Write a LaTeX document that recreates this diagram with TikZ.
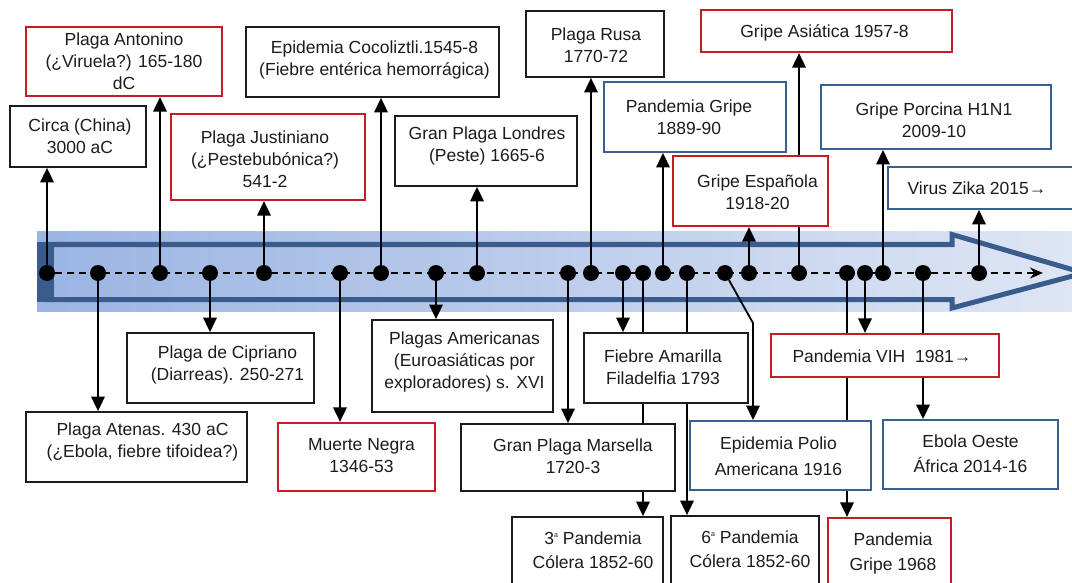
\documentclass[tikz,border=0pt]{standalone}
\usepackage{fontspec}
\setmainfont{Liberation Sans}
\usetikzlibrary{arrows.meta}
\definecolor{redc}{RGB}{200,28,36}
\definecolor{bluec}{RGB}{58,96,146}
\definecolor{blkc}{RGB}{28,28,28}
\definecolor{bandD}{RGB}{58,92,140}
\definecolor{bandL}{RGB}{155,180,226}
\definecolor{bandR}{RGB}{222,230,244}
\pgfdeclarelayer{back}
\pgfdeclarelayer{conn}
\pgfsetlayers{back,conn,main}
\newcommand\ordA{\raisebox{7pt}{\fontsize{7}{7}\selectfont a}}
\newcommand\evbox[9]{%
  \node[#1, minimum width={#5-#3}, minimum height={#6-#4}] (#2) at ({(#3+#5)/2},{(#4+#6)/2}) {};
  \node[txt] (#2t) at ({(#3+#5)/2+#7},{(#4+#6)/2+#8}) {#9};}
\tikzset{
  boxbase/.style={draw, fill=white, inner sep=0pt, rectangle},
  kbox/.style={boxbase, draw=blkc, line width=1.8pt},
  rbox/.style={boxbase, draw=redc, line width=2.2pt},
  bbox/.style={boxbase, draw=bluec, line width=1.9pt},
  txt/.style={font=\fontsize{17.5}{22}\selectfont, align=center, inner sep=0pt, text=blkc},
  dot/.style={circle, fill=black, minimum size=16pt, inner sep=0pt},
  arr/.style={line width=1.8pt, draw=black, -{Triangle[length=14.5pt,width=13.5pt]}},
  timeline/.style={line width=1.7pt, dash pattern=on 7pt off 5pt, -{Stealth[length=13pt,width=11pt]}}
}
\begin{document}
\begin{tikzpicture}[x=1pt,y=-1pt]
\useasboundingbox (0,0) rectangle (1072,583);
% band
\begin{pgfonlayer}{back}
  \clip (0,0) rectangle (1072,583);
  \shade[left color=bandL, right color=bandR] (37,232) rectangle (1072,311);
  \draw[line width=5pt, bandD, line join=miter]
    (45,244.5) -- (952,244.5) -- (952,234.5) -- (1084,273) -- (952,308) -- (952,299.5) -- (45,299.5);
  \fill[bandD] (37,242) rectangle (54,302);
\end{pgfonlayer}
\begin{scope}
\clip (0,0) rectangle (1072,583);
% dots
\foreach \n/\x in {1/47,2/98,3/160,4/210,5/264,6/340,7/381,8/436,9/477,10/568,11/591,12/623,13/643,14/663,15/687,16/725,17/749,18/799,19/847,20/865,21/883,22/923,23/979}
  \node[dot] (d\n) at (\x,273) {};
\coordinate (lineend) at (1043,273);
% boxes above
\evbox{kbox}{circa}{10}{106}{146}{167}{2}{0}{Circa (China)\\3000 aC}
\evbox{rbox}{ant}{26}{27}{222}{96}{0}{0}{Plaga Antonino\\(¿Viruela?) 165-180\\dC}
\evbox{rbox}{just}{171}{114}{365}{200}{-3}{2}{Plaga Justiniano\\(¿Pestebubónica?)\\541-2}
\evbox{kbox}{coco}{246}{27}{499}{97}{2}{-2}{Epidemia Cocoliztli.1545-8\\(Fiebre entérica hemorrágica)}
\evbox{kbox}{lond}{395}{116}{577}{186}{1}{-5}{Gran Plaga Londres\\(Peste) 1665-6}
\evbox{kbox}{rusa}{526}{11}{664}{77}{1}{1}{Plaga Rusa\\1770-72}
\evbox{bbox}{pg}{604}{82}{786}{152}{-6}{0}{Pandemia Gripe\\1889-90}
\evbox{rbox}{esp}{673}{156}{828}{226}{7}{1}{Gripe Española\\1918-20}
\evbox{rbox}{asia}{701}{10}{952}{52}{-2}{2}{Gripe Asiática 1957-8}
\evbox{bbox}{porc}{821}{85}{1051}{149}{-2}{3}{Gripe Porcina H1N1\\2009-10}
\evbox{bbox}{zika}{888}{167}{1090}{209}{-12}{0}{Virus Zika 2015→}
% boxes below
\evbox{kbox}{aten}{26}{412}{247}{482}{6}{-5}{Plaga Atenas. 430 aC\\(¿Ebola, fiebre tifoidea?)}
\evbox{kbox}{cip}{127}{333}{314}{403}{7}{-3}{Plaga de Cipriano\\(Diarreas). 250-271}
\evbox{rbox}{muer}{278}{423}{435}{491}{5}{-1}{Muerte Negra\\1346-53}
\evbox{kbox}{plam}{372}{320}{553}{412}{2}{-4}{Plagas Americanas\\(Euroasiáticas por\\exploradores) s. XVI}
\evbox{kbox}{mars}{461}{424}{675}{491}{5}{-1}{Gran Plaga Marsella\\1720-3}
\evbox{kbox}{fieb}{584}{333}{748}{403}{-3}{-1}{Fiebre Amarilla\\Filadelfia 1793}
\evbox{bbox}{polio}{690}{421}{871}{490}{-2}{1}{Epidemia Polio\\[4pt]Americana 1916}
\evbox{rbox}{vih}{771}{334}{999}{377}{-3}{1}{Pandemia VIH\ \ 1981→}
\evbox{bbox}{ebola}{883}{420}{1058}{489}{0}{-1}{Ebola Oeste\\[3pt]África 2014-16}
\evbox{kbox}{colA}{512}{517}{663}{600}{5.5}{-8.5}{3\ordA{} Pandemia\\[2pt]Cólera 1852-60}
\evbox{kbox}{colB}{671}{516}{819}{600}{5}{-9}{6\ordA{} Pandemia\\[2pt]Cólera 1852-60}
\evbox{rbox}{gr68}{828}{518}{951}{600}{3.5}{-6}{Pandemia\\[3pt]Gripe 1968}
\end{scope}
% connectors
\begin{pgfonlayer}{conn}
  \draw[timeline] (d1) -- (lineend);
  % upward
  \draw[arr] (d1) -- (d1 |- circa.south);
  \draw[arr] (d3) -- (d3 |- ant.south);
  \draw[arr] (d5) -- (d5 |- just.south);
  \draw[arr] (d7) -- (d7 |- coco.south);
  \draw[arr] (d9) -- (d9 |- lond.south);
  \draw[arr] (d11) -- (d11 |- rusa.south);
  \draw[arr] (d14) -- (d14 |- pg.south);
  \draw[arr] (d17) -- (d17 |- esp.south);
  \draw[arr] (d18) -- (d18 |- asia.south);
  \draw[arr] (d21) -- (d21 |- porc.south);
  \draw[arr] (d23) -- (d23 |- zika.south);
  % downward
  \draw[arr] (d2) -- (d2 |- aten.north);
  \draw[arr] (d4) -- (d4 |- cip.north);
  \draw[arr] (d6) -- (d6 |- muer.north);
  \draw[arr] (d8) -- (d8 |- plam.north);
  \draw[arr] (d10) -- (d10 |- mars.north);
  \draw[arr] (d12) -- (d12 |- fieb.north);
  \draw[arr] (d13) -- (d13 |- colA.north);
  \draw[arr] (d15) -- (d15 |- colB.north);
  \coordinate (pbend) at (753,323);
  \draw[arr] (d16) -- (pbend) -- (pbend |- polio.north);
  \draw[arr] (d19) -- (d19 |- gr68.north);
  \draw[arr] (d20) -- (d20 |- vih.north);
  \draw[arr] (d22) -- (d22 |- ebola.north);
\end{pgfonlayer}
\end{tikzpicture}
\end{document}
